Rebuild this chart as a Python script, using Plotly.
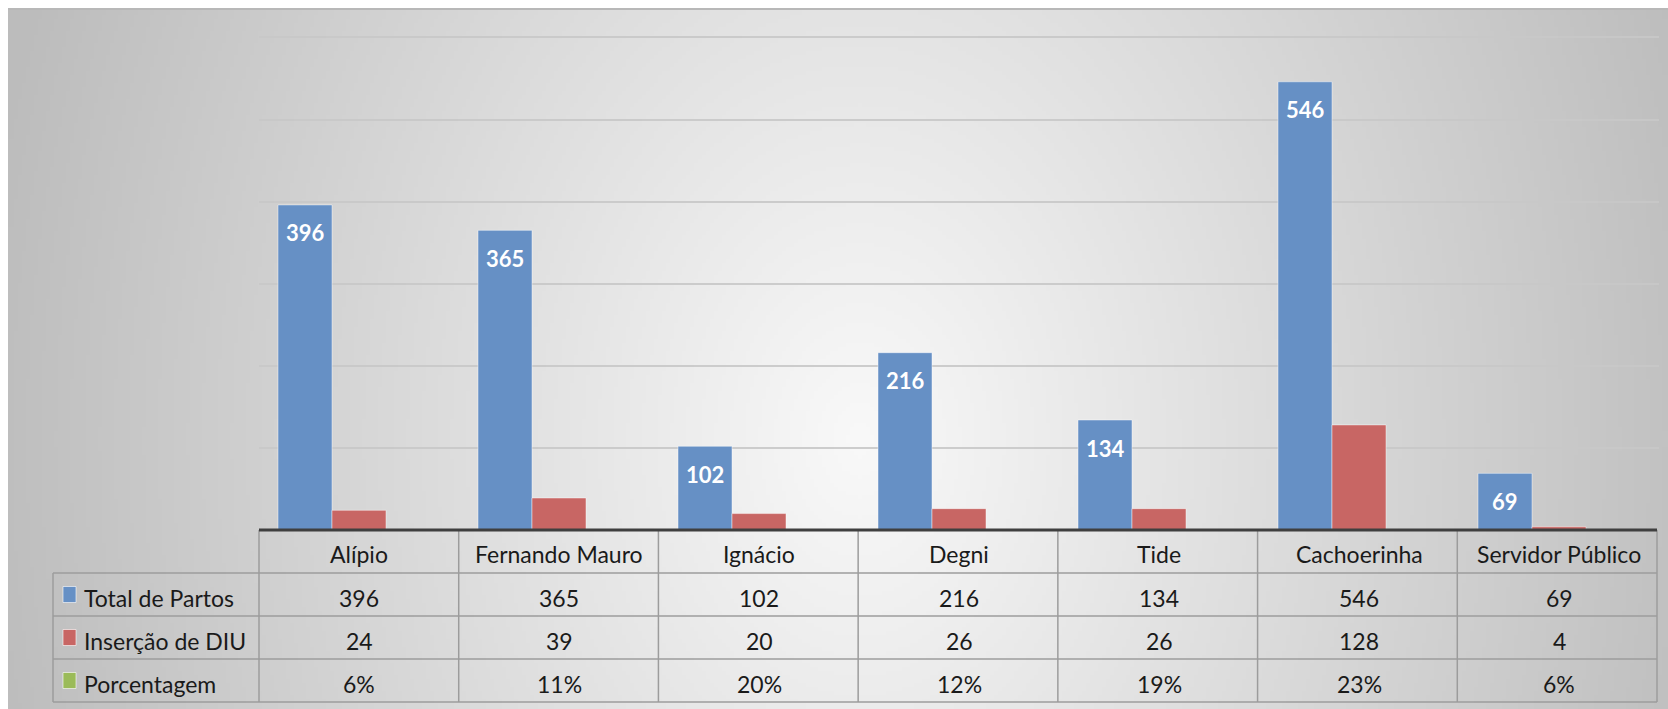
import base64
import struct
import zlib

import numpy as np
import plotly.graph_objects as go

# ---- data ----
categories = ["Alípio", "Fernando Mauro", "Ignácio", "Degni", "Tide", "Cachoerinha", "Servidor Público"]
total_partos = [396, 365, 102, 216, 134, 546, 69]
insercao_diu = [24, 39, 20, 26, 26, 128, 4]
porcentagem = [0.06, 0.11, 0.20, 0.12, 0.19, 0.23, 0.06]
y_ticks = [0, 100, 200, 300, 400, 500, 600]

series_names = ["Total de Partos", "Inserção de DIU", "Porcentagem"]
series_colors = ["#6690C5", "#C86664", "#9BBB59"]

# ---- geometry (pixels) ----
W, H = 1668, 709
PLOT_L, PLOT_R = 259, 1659
PLOT_T, PLOT_B = 35, 530
PLOT_W, PLOT_H = PLOT_R - PLOT_L, PLOT_B - PLOT_T
Y_MAX = 603
ROWS = [530, 573, 616, 659, 702]
LEGEND_L = 53
BOX_L, BOX_T = 8, 9
BARGAP = 0.19
FONT = "Lato, 'Open Sans', sans-serif"
TABLE_FONT = dict(family=FONT, size=23, color="#1a1a1a")
TEXT_SHIFT = -2


def px_x(x):
    return (x - PLOT_L) / PLOT_W


def px_y(y):
    return (PLOT_B - y) / PLOT_H


def gradient_uri(w, h):
    # soft radial gray gradient, lightest slightly right of centre
    sx, sy = 4, 4
    gw, gh = w // sx, h // sy
    xs = (np.arange(gw) + 0.5) * sx + BOX_L
    ys = (np.arange(gh) + 0.5) * sy + BOX_T
    X, Y = np.meshgrid(xs, ys)
    r = np.sqrt(((X - 860) / 850.0) ** 2 + ((Y - 440) / 1150.0) ** 2)
    c = 249 - 58 * np.clip(r, 0, 1.05)
    img = np.clip(c, 0, 255).astype(np.uint8)
    arr = np.stack([img, img, img], axis=-1)
    raw = b"".join(b"\x00" + row.tobytes() for row in arr)

    def chunk(tag, data):
        return (struct.pack(">I", len(data)) + tag + data
                + struct.pack(">I", zlib.crc32(tag + data) & 0xFFFFFFFF))

    png = (b"\x89PNG\r\n\x1a\n"
           + chunk(b"IHDR", struct.pack(">IIBBBBB", gw, gh, 8, 2, 0, 0, 0))
           + chunk(b"IDAT", zlib.compress(raw, 9))
           + chunk(b"IEND", b""))
    return "data:image/png;base64," + base64.b64encode(png).decode()


fig = go.Figure()
for name, vals, col in zip(series_names, [total_partos, insercao_diu, porcentagem], series_colors):
    fig.add_trace(go.Bar(
        x=categories, y=vals, name=name,
        marker=dict(color=col, line=dict(color="rgba(255,255,255,0.45)", width=1)),
        hoverinfo="skip",
    ))

annotations = []
shapes = []

# value labels inside the top of the blue bars
bar_w = (1 - BARGAP) / 3
for i, v in enumerate(total_partos):
    annotations.append(dict(
        x=i - bar_w, y=v, xref="x", yref="y", text=str(v), showarrow=False,
        xanchor="center", yanchor="middle", yshift=-28,
        font=dict(family=FONT, size=22, color="white", weight="bold"),
    ))

# data table under the axis
row_mid = [(ROWS[k] + ROWS[k + 1]) / 2 for k in range(4)]
for i, cat in enumerate(categories):
    annotations.append(dict(x=i, y=px_y(row_mid[0]), xref="x", yref="paper", text=cat,
                            xanchor="center", yanchor="middle", yshift=TEXT_SHIFT,
                            showarrow=False, font=TABLE_FONT))
row_texts = [
    [str(v) for v in total_partos],
    [str(v) for v in insercao_diu],
    [f"{v:.0%}" for v in porcentagem],
]
for r, texts in enumerate(row_texts):
    for i, t in enumerate(texts):
        annotations.append(dict(x=i, y=px_y(row_mid[r + 1]), xref="x", yref="paper", text=t,
                                xanchor="center", yanchor="middle", yshift=TEXT_SHIFT - 1,
                                showarrow=False, font=TABLE_FONT))
    # legend key + series name
    ym = row_mid[r + 1]
    shapes.append(dict(type="rect", xref="paper", yref="paper",
                       x0=px_x(63), x1=px_x(76), y0=px_y(ym + 8), y1=px_y(ym - 8),
                       fillcolor=series_colors[r], line=dict(color="rgba(255,255,255,0.6)", width=1)))
    annotations.append(dict(x=px_x(82), y=px_y(ym), xref="paper", yref="paper",
                            text=series_names[r], xanchor="left", yanchor="middle",
                            yshift=TEXT_SHIFT - 1, showarrow=False, font=TABLE_FONT))

grid_col = "#9C9C9C"
for y in ROWS[1:]:
    shapes.append(dict(type="line", xref="paper", yref="paper", x0=px_x(LEGEND_L), x1=px_x(PLOT_R - 2),
                       y0=px_y(y), y1=px_y(y), line=dict(color=grid_col, width=1.5)))
for k in range(len(categories) + 1):
    x = PLOT_L + k * (PLOT_R - 2 - PLOT_L) / len(categories)
    shapes.append(dict(type="line", xref="paper", yref="paper", x0=px_x(x), x1=px_x(x),
                       y0=px_y(ROWS[0]), y1=px_y(ROWS[-1]), line=dict(color=grid_col, width=1.5)))
shapes.append(dict(type="line", xref="paper", yref="paper", x0=px_x(LEGEND_L), x1=px_x(LEGEND_L),
                   y0=px_y(ROWS[1]), y1=px_y(ROWS[-1]), line=dict(color=grid_col, width=1.5)))
# category axis line
shapes.append(dict(type="line", xref="paper", yref="paper", x0=0, x1=px_x(PLOT_R - 2),
                   y0=0, y1=0, line=dict(color="#3F3F3F", width=3)))
# top edge of the panel
shapes.append(dict(type="line", xref="paper", yref="paper", x0=px_x(BOX_L), x1=px_x(W),
                   y0=px_y(BOX_T), y1=px_y(BOX_T), line=dict(color="#B8B8B8", width=2)))

fig.update_layout(
    width=W, height=H,
    margin=dict(l=PLOT_L, r=W - PLOT_R, t=PLOT_T, b=H - PLOT_B, pad=0),
    paper_bgcolor="white", plot_bgcolor="rgba(0,0,0,0)",
    barmode="group", bargap=BARGAP, bargroupgap=0,
    showlegend=False,
    font=dict(family=FONT),
    xaxis=dict(showticklabels=False, ticks="", showgrid=False, zeroline=False, showline=False,
               fixedrange=True),
    yaxis=dict(range=[0, Y_MAX], tickvals=y_ticks, showticklabels=False, ticks="",
               showgrid=True, gridcolor="rgba(200,200,200,0.9)", gridwidth=2,
               zeroline=False, showline=False, fixedrange=True),
    images=[dict(source=gradient_uri(W - BOX_L, H - BOX_T), xref="paper", yref="paper",
                 x=px_x(BOX_L), y=px_y(BOX_T), sizex=(W - BOX_L) / PLOT_W, sizey=(H - BOX_T) / PLOT_H,
                 xanchor="left", yanchor="top", sizing="stretch", layer="below")],
    annotations=annotations,
    shapes=shapes,
    hovermode=False,
)

fig.write_html("out.html", config={"displayModeBar": False, "staticPlot": True})
